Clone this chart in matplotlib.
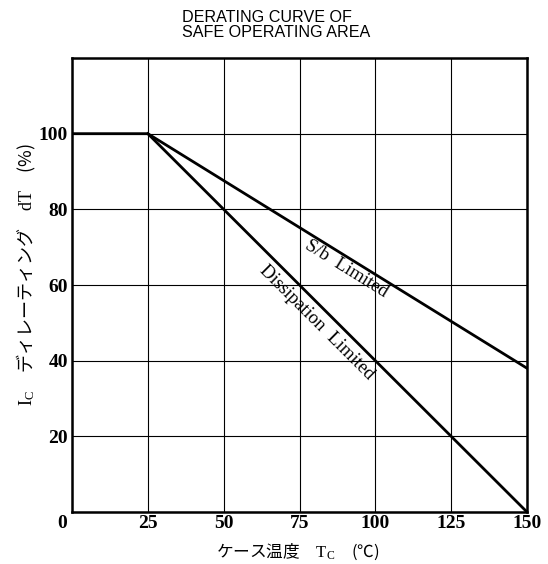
import matplotlib
matplotlib.use("Agg")
import matplotlib.pyplot as plt
import matplotlib.transforms as mtrans
import numpy as np

plt.rcParams['font.family'] = ['Liberation Serif', 'Noto Sans CJK JP', 'DejaVu Sans']
plt.rcParams['mathtext.fontset'] = 'custom'
plt.rcParams['mathtext.rm'] = 'Liberation Serif'

# data
sb_temp = [0, 25, 150]
sb_pct = [100, 100, 38]
diss_temp = [25, 150]
diss_pct = [100, 0]
x_ticks = [0, 25, 50, 75, 100, 125, 150]
y_ticks = [0, 20, 40, 60, 80, 100]

fig = plt.figure(figsize=(5.48, 5.64), dpi=100)
ax = fig.add_axes([72/548, 52/564, 455/548, 454/564])
ax.set_xlim(0, 150)
ax.set_ylim(0, 120)

ax.set_xticks(x_ticks)
ax.set_yticks(y_ticks)
ax.set_xticklabels([str(v) for v in x_ticks], fontsize=14, fontweight='bold')
ax.set_yticklabels(["" if v == 0 else str(v) for v in y_ticks], fontsize=14, fontweight='bold')
ax.tick_params(axis='x', length=0, pad=2)
ax.tick_params(axis='y', length=0, pad=3)
# corner "0" sits left of the origin
lbl0 = ax.get_xticklabels()[0]
lbl0.set_transform(lbl0.get_transform() + mtrans.ScaledTranslation(-10/100, 0, fig.dpi_scale_trans))

ax.grid(True, color='black', linewidth=0.8)
for s in ax.spines.values():
    s.set_linewidth(1.8)

ax.plot(sb_temp, sb_pct, color='black', linewidth=2)
ax.plot(diss_temp, diss_pct, color='black', linewidth=2)

# rotation angles from display coords
def angle(x0, y0, x1, y1):
    p0 = ax.transData.transform((x0, y0))
    p1 = ax.transData.transform((x1, y1))
    return np.degrees(np.arctan2(p1[1]-p0[1], p1[0]-p0[0]))

a_sb = angle(25, 100, 150, 38)
a_d = angle(25, 100, 150, 0)
ax.text(90.5, 64.3, "S/b  Limited", rotation=a_sb, rotation_mode='anchor',
        ha='center', va='center', fontsize=13.5, family='Liberation Serif')
ax.text(80.5, 50.0, "Dissipation  Limited", rotation=a_d, rotation_mode='anchor',
        ha='center', va='center', fontsize=13.5, family='Liberation Serif')

ax.set_xlabel("ケース温度　$\\mathrm{T_C}$　(℃)", fontsize=12, family='Noto Sans CJK JP')
ax.xaxis.set_label_coords(0.496, -0.066)
ax.set_ylabel("$\\mathrm{I_C}$　ディレーティング　$\\mathrm{dT}$　(%)", fontsize=13,
              family='Noto Sans CJK JP')
ax.yaxis.set_label_coords(-0.075, 0.524)

fig.text(182/548, 1 - 10/564, "DERATING CURVE OF\nSAFE OPERATING AREA", ha='left', va='top',
         fontsize=11.6, family='Liberation Sans', linespacing=1.0)

fig.savefig("out.png", dpi=100)
